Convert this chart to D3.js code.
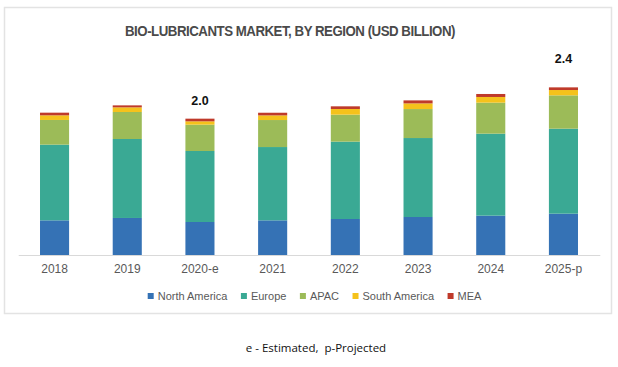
<!DOCTYPE html>
<html>
<head>
<meta charset="utf-8">
<script src="https://cdn.jsdelivr.net/npm/d3@7"></script>
<style>
  html, body { margin: 0; padding: 0; background: #fff; }
  svg { display: block; }
</style>
</head>
<body>
<svg id="chart" width="618" height="367"></svg>
<script>
const categories = ["2018", "2019", "2020-e", "2021", "2022", "2023", "2024", "2025-p"];
const seriesNames = ["North America", "Europe", "APAC", "South America", "MEA"];
const northAmerica = [0.508, 0.543, 0.484, 0.508, 0.528, 0.557, 0.577, 0.606];
const europe       = [1.110, 1.158, 1.041, 1.075, 1.134, 1.158, 1.202, 1.246];
const apac         = [0.362, 0.396, 0.386, 0.396, 0.396, 0.425, 0.455, 0.489];
const southAmerica = [0.068, 0.068, 0.049, 0.068, 0.083, 0.083, 0.083, 0.078];
const mea          = [0.039, 0.029, 0.039, 0.039, 0.039, 0.044, 0.044, 0.039];
const totalLabels = [{ cat: "2020-e", text: "2.0" }, { cat: "2025-p", text: "2.4" }];
const colors = ["#3572b5", "#3aa994", "#9cbb58", "#f5c21b", "#bf3a2a"];

const seriesValues = [northAmerica, europe, apac, southAmerica, mea];
const rows = categories.map((c, i) => {
  const r = { cat: c };
  seriesNames.forEach((s, j) => r[s] = seriesValues[j][i]);
  return r;
});

const svg = d3.select("#chart");
const font = "'Liberation Sans', Arial, sans-serif";

// frame
svg.append("rect").attr("x", 4.5).attr("y", 7.5).attr("width", 607).attr("height", 306)
  .attr("fill", "none").attr("stroke", "#e3e3e3").attr("stroke-width", 1.5);

// title
svg.append("text").attr("x", 290).attr("y", 36).attr("text-anchor", "middle")
  .attr("font-family", font).attr("font-weight", "bold").attr("font-size", 14)
  .attr("fill", "#4a4a4a").attr("textLength", 330).attr("lengthAdjust", "spacingAndGlyphs")
  .attr("letter-spacing", "-0.5")
  .text("BIO-LUBRICANTS MARKET, BY REGION (USD BILLION)");

const x = d3.scaleBand().domain(categories).range([18.2, 599.8]).paddingInner(0.6).paddingOuter(0.3);
const y = d3.scaleLinear().domain([0, 3]).range([255, 50.4]);

const stack = d3.stack().keys(seriesNames)(rows);

svg.append("g").selectAll("g").data(stack).join("g")
  .attr("fill", (d, i) => colors[i])
  .selectAll("rect").data(d => d).join("rect")
  .attr("x", d => x(d.data.cat))
  .attr("width", x.bandwidth())
  .attr("y", d => y(d[1]))
  .attr("height", d => y(d[0]) - y(d[1]));

// axis
const ax = svg.append("g").attr("transform", "translate(0,255)")
  .call(d3.axisBottom(x).tickSize(0).tickPadding(9));
ax.select(".domain").attr("stroke", "#d9d9d9").attr("stroke-width", 1.2);
ax.selectAll("text").attr("font-family", font).attr("font-size", 12).attr("fill", "#595959");

// total labels
const totals = {};
rows.forEach(r => totals[r.cat] = d3.sum(seriesNames, s => r[s]));
svg.append("g").selectAll("text").data(totalLabels).join("text")
  .attr("x", d => x(d.cat) + x.bandwidth() / 2)
  .attr("y", d => y(totals[d.cat]) - (d.cat === "2025-p" ? 24 : 14))
  .attr("text-anchor", "middle")
  .attr("font-family", font).attr("font-weight", "bold").attr("font-size", 12.5)
  .attr("fill", "#111")
  .text(d => d.text);

// legend
const lg = svg.append("g");
let lx = 147.7;
seriesNames.forEach((s, i) => {
  lg.append("rect").attr("x", lx).attr("y", 293).attr("width", 6).attr("height", 6).attr("fill", colors[i]);
  const t = lg.append("text").attr("x", lx + 10).attr("y", 300)
    .attr("font-family", font).attr("font-size", 11).attr("fill", "#595959").text(s);
  lx += 10 + t.node().getComputedTextLength() + 13.5;
});

// footnote
svg.append("text").attr("x", 316).attr("y", 352).attr("text-anchor", "middle")
  .attr("font-family", "'Open Sans', sans-serif").attr("font-size", 11.5).attr("fill", "#111")
  .attr("xml:space", "preserve").style("white-space", "pre")
  .text("e - Estimated,  p-Projected");
</script>
</body>
</html>
